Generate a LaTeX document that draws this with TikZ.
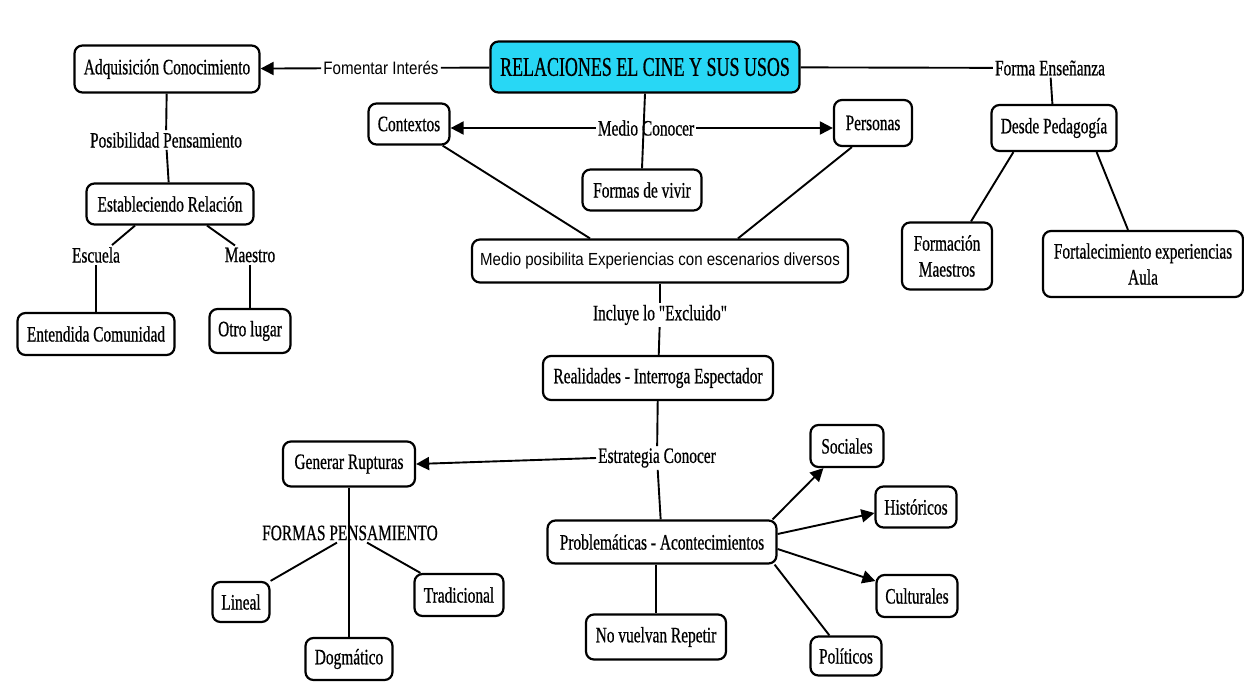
\documentclass[tikz,border=0pt]{standalone}
\usepackage{fontspec}
\setmainfont{Liberation Serif}
\newfontfamily\cserif[FakeStretch=0.70,FakeBold=0.6]{Liberation Serif}
\newfontfamily\mserif[FakeStretch=0.665,FakeBold=0.6]{Liberation Serif}
\newfontfamily\csans[FakeStretch=0.84]{Liberation Sans}
\newfontfamily\msans[FakeStretch=0.86]{Liberation Sans}
\usetikzlibrary{arrows.meta,calc}
\definecolor{maincyan}{RGB}{40,215,245}
\begin{document}
\begin{tikzpicture}[x=1pt,y=-1pt,
  box/.style={draw, line width=2.2pt, rounded corners=8pt, fill=white, inner sep=0pt,
    font=\cserif\fontsize{22}{26}\selectfont, align=center},
  lbl/.style={inner sep=2pt, font=\cserif\fontsize{22}{26}\selectfont},
  slbl/.style={inner sep=2pt, font=\csans\fontsize{18}{22}\selectfont},
  con/.style={line width=1.9pt},
  arr/.style={con, -{Triangle[length=13pt,width=13pt]}}]
\fill[white] (0,0) rectangle (1244,682);
\useasboundingbox (0,0) rectangle (1244,682);

% nodes
\node[box, fill=maincyan, minimum width=309pt, minimum height=51pt,
  font=\mserif\fontsize{27}{31}\selectfont] (main) at (645,67) {RELACIONES EL CINE Y SUS USOS};
\node[box, minimum width=185pt, minimum height=47pt] (adq) at (167,69) {Adquisición Conocimiento};
\node[slbl] (fom) at (381,68) {Fomentar Interés};
\node[box, minimum width=81pt, minimum height=41pt] (ctx) at (409,124) {Contextos};
\node[lbl] (medcon) at (646,128) {Medio Conocer};
\node[box, minimum width=78pt, minimum height=46pt] (per) at (873,123) {Personas};
\node[box, minimum width=119pt, minimum height=41pt] (formas) at (642,190) {Formas de vivir};
\node[box, minimum width=376pt, minimum height=43pt,
  font=\msans\fontsize{17.5}{21}\selectfont] (medio) at (660,261) {Medio posibilita Experiencias con escenarios diversos};
\node[lbl] (incl) at (660,315) {Incluye lo "Excluido"};
\node[box, minimum width=230pt, minimum height=44pt] (real) at (658,378) {Realidades - Interroga Espectador};
\node[lbl] (estr) at (657,458) {Estrategia Conocer};
\node[box, minimum width=132pt, minimum height=45pt] (gen) at (349,464) {Generar Rupturas};
\node[lbl] (formp) at (350,533) {FORMAS PENSAMIENTO};
\node[box, minimum width=57pt, minimum height=40pt] (lin) at (241,602) {Lineal};
\node[box, minimum width=89pt, minimum height=42pt] (trad) at (459,595) {Tradicional};
\node[box, minimum width=87pt, minimum height=42pt] (dog) at (349,659) {Dogmático};
\node[box, minimum width=229pt, minimum height=43pt] (prob) at (662,542) {Problemáticas - Acontecimientos};
\node[box, minimum width=140pt, minimum height=45pt] (novu) at (656,637) {No vuelvan Repetir};
\node[box, minimum width=73pt, minimum height=42pt] (soc) at (847,446) {Sociales};
\node[box, minimum width=81pt, minimum height=41pt] (his) at (916,507) {Históricos};
\node[box, minimum width=81pt, minimum height=42pt] (cul) at (917,596) {Culturales};
\node[box, minimum width=71pt, minimum height=39pt] (pol) at (846,656) {Políticos};
\node[lbl] (posib) at (166,140) {Posibilidad Pensamiento};
\node[box, minimum width=167pt, minimum height=41pt] (est) at (170,204) {Estableciendo Relación};
\node[lbl] (esc) at (96,255) {Escuela};
\node[lbl] (mae) at (250,255) {Maestro};
\node[box, minimum width=157pt, minimum height=42pt] (ent) at (96,334) {Entendida Comunidad};
\node[box, minimum width=81pt, minimum height=44pt] (otro) at (250,331) {Otro lugar};
\node[lbl] (fen) at (1050,68) {Forma Enseñanza};
\node[box, minimum width=125pt, minimum height=46pt] (des) at (1054,128) {Desde Pedagogía};
\node[box, minimum width=90pt, minimum height=67pt] (fmae) at (947,256) {Formación\\Maestros};
\node[box, minimum width=200pt, minimum height=66pt] (fort) at (1143,264) {Fortalecimiento experiencias\\Aula};

% connectors
\draw[con] (main) -- (fom);
\draw[arr] (fom) -- (adq);
\draw[arr] (medcon.west) -- (medcon.west -| ctx.east);
\draw[arr] (medcon.east) -- (medcon.east -| per.west);
\draw[con] (main.south) -- (formas.north);
\draw[con] ($(ctx.south east)+(-8,0)$) -- ($(medio.north)+(-70,0)$);
\draw[con] ($(per.south west)+(19,0)$) -- ($(medio.north)+(78,0)$);
\draw[con] (medio) -- (incl);
\draw[con] (incl) -- (real);
\draw[con] (real) -- (estr);
\draw[con] (estr) -- (prob);
\draw[arr] (estr.west) -- (gen.east);
\draw[con] (gen) -- (dog);
\draw[con] ($(formp.south)+(-13,0)$) -- (lin.north east);
\draw[con] ($(formp.south)+(17,0)$) -- ($(trad.north west)+(7,0)$);
\draw[arr] ($(prob.north east)+(-5,0)$) -- ($(soc.south west)+(14,0)$);
\draw[arr] ($(prob.east)+(0,-8)$) -- ($(his.west)+(0,6)$);
\draw[arr] ($(prob.east)+(0,7)$) -- ($(cul.west)+(0,-15)$);
\draw[con] ($(prob.south east)+(-3,0)$) -- ($(pol.north west)+(20,0)$);
\draw[con] (novu.north |- prob.south) -- (novu.north);
\draw[con] (adq) -- (posib);
\draw[con] (posib) -- (est);
\draw[con] ($(est.south)+(-35,0)$) -- ($(esc.north)+(16,0)$);
\draw[con] (esc.south -| ent.north) -- (ent.north);
\draw[con] ($(est.south)+(37,0)$) -- ($(mae.north)+(-15,0)$);
\draw[con] (mae.south) -- (otro.north);
\draw[con] (main) -- (fen);
\draw[con] (fen) -- (des);
\draw[con] ($(des.south west)+(23,0)$) -- ($(fmae.north)+(24,0)$);
\draw[con] ($(des.south east)+(-21,0)$) -- ($(fort.north)+(-15,0)$);
\end{tikzpicture}
\end{document}
